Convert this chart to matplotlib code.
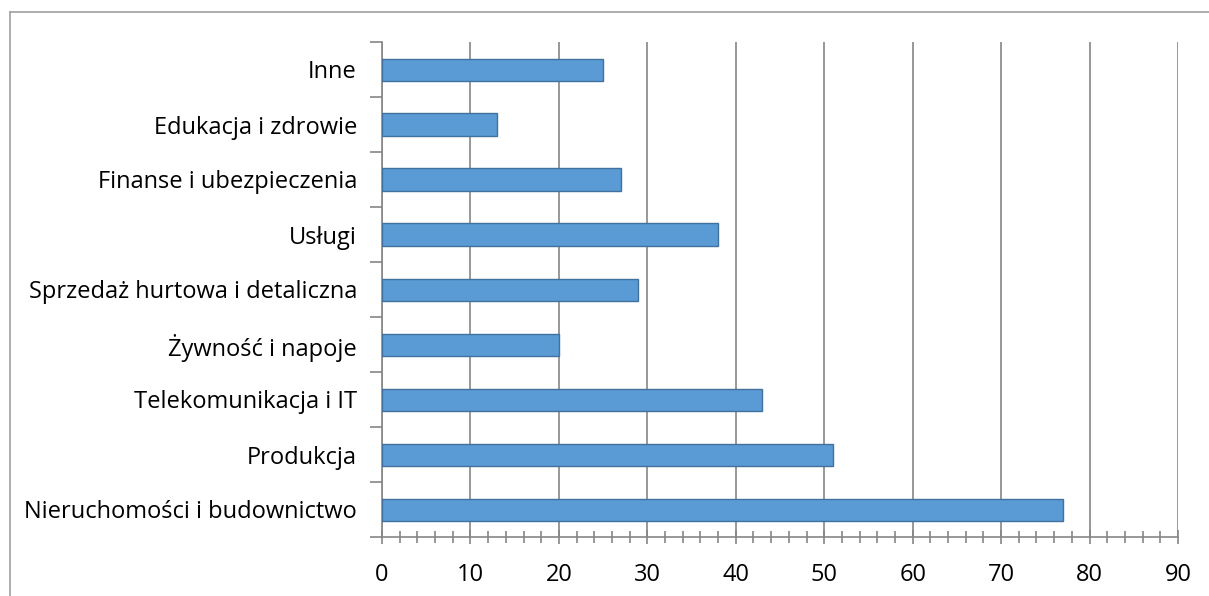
import matplotlib.pyplot as plt
import numpy as np
from matplotlib.lines import Line2D

categories = ["Nieruchomości i budownictwo", "Produkcja", "Telekomunikacja i IT",
              "Żywność i napoje", "Sprzedaż hurtowa i detaliczna", "Usługi",
              "Finanse i ubezpieczenia", "Edukacja i zdrowie", "Inne"]
values = [77, 51, 43, 20, 29, 38, 27, 13, 25]
x_ticks = [0, 10, 20, 30, 40, 50, 60, 70, 80, 90]

plt.rcParams['font.family'] = ['Open Sans', 'DejaVu Sans']

fig = plt.figure(figsize=(12.09, 5.96), dpi=100)
W, H = 1209, 596
ax = fig.add_axes([382 / W, 1 - 537 / H, (1178 - 382) / W, (537 - 42) / H])

y = np.arange(len(categories))
ax.barh(y, values, height=0.4, color='#5B9BD5', edgecolor='#41719C', linewidth=1, zorder=3)

grid_c = '#868686'
ax.set_xlim(0, 90)
ax.set_ylim(-0.5, len(categories) - 0.5)
ax.set_xticks(x_ticks)
ax.set_xticks(np.arange(0, 91, 2), minor=True)
ax.set_yticks(y)
ax.set_yticklabels(categories)
ax.set_yticks(np.arange(-0.5, len(categories), 1), minor=True)

ax.grid(axis='x', which='major', color=grid_c, linewidth=1.2, zorder=0)
for s in ['top', 'right']:
    ax.spines[s].set_visible(False)
for s in ['left', 'bottom']:
    ax.spines[s].set_color(grid_c)
    ax.spines[s].set_linewidth(1.2)

ax.tick_params(axis='x', which='both', direction='inout', length=10, color=grid_c, width=1.2,
               labelsize=17, pad=14)
ax.tick_params(axis='x', which='minor', length=9)
ax.tick_params(axis='y', which='major', length=0, labelsize=17, pad=18)
ax.tick_params(axis='y', which='minor', direction='out', length=9, color=grid_c, width=1.2)

# outer chart border
fig.add_artist(Line2D([10 / W, 1], [1 - 12 / H, 1 - 12 / H], color='#A0A0A0', linewidth=1.2))
fig.add_artist(Line2D([10 / W, 10 / W], [0, 1 - 12 / H], color='#A0A0A0', linewidth=1.2))

fig.savefig("out.png", dpi=100)
